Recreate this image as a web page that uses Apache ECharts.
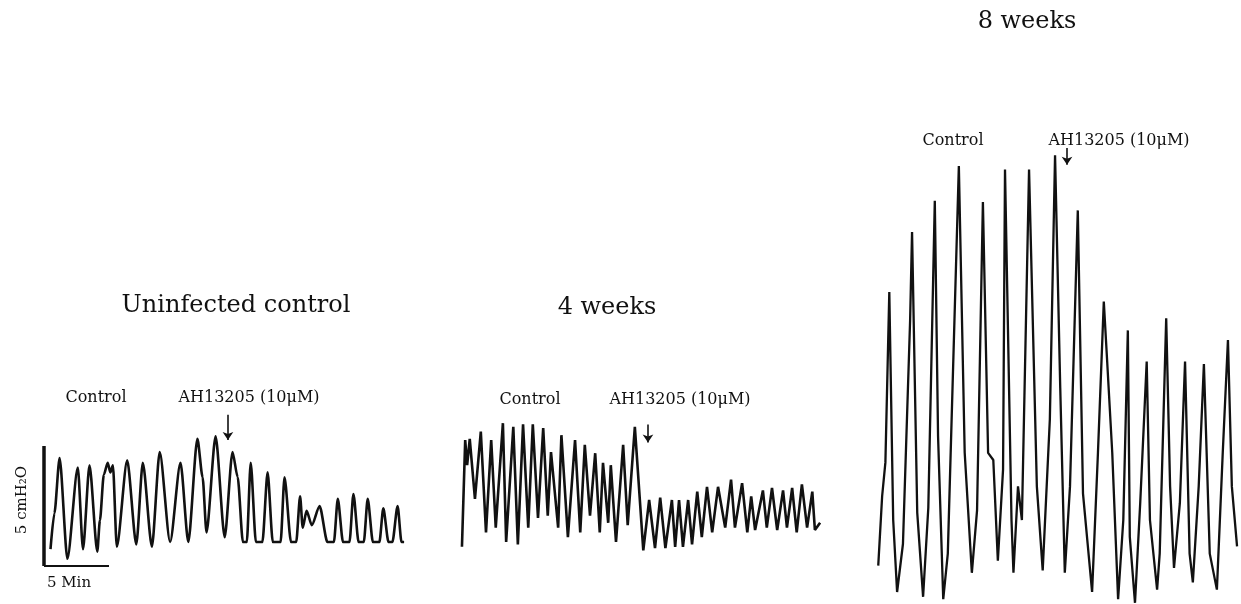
<!DOCTYPE html>
<html><head><meta charset="utf-8">
<script src="https://cdn.jsdelivr.net/npm/echarts@6/dist/echarts.min.js"></script>
<style>html,body{margin:0;padding:0;background:#fff}#c{width:1241px;height:604px}</style>
</head><body><div id="c"></div>
<script>
// ---- data (time in min, pressure in cmH2O above chart baseline) ----
const panelTitles = ['Uninfected control', '4 weeks', '8 weeks'];
const controlLabel = 'Control';
const drugLabel = 'AH13205 (10μM)';

const ucTime = [0.5,0.8,1.2,1.8,2.6,3.0,3.5,4.1,4.3,4.6,4.9,5.1,5.3,5.6,6.4,7.1,7.6,8.3,8.9,9.7,10.5,11.1,11.8,12.2,12.5,13.2,13.9,14.5,14.9,15.3,15.6,15.9,16.3,16.8,17.2,17.6,18.2,18.5,19.0,19.4,19.7,19.9,20.2,20.6,21.2,21.8,22.3,22.6,23.0,23.5,23.8,24.2,24.6,24.9,25.3,25.8,26.1,26.5,26.8,27.2,27.5,27.7];
const ucPressure = [0.7,2.2,4.5,0.3,4.1,0.7,4.2,0.6,1.9,3.8,4.3,3.9,4.2,0.8,4.4,0.9,4.3,0.8,4.75,1.0,4.3,1.0,5.3,3.7,1.4,5.4,1.2,4.75,3.7,1.0,1.0,4.3,1.0,1.0,3.9,1.0,1.0,3.7,1.0,1.0,2.9,1.6,2.3,1.7,2.5,1.0,1.0,2.8,1.0,1.0,3.0,1.0,1.0,2.8,1.0,1.0,2.4,1.0,1.0,2.5,1.0,1.0];

const w4Time = [0.15,0.4,0.55,0.75,1.15,1.6,2.0,2.4,2.75,3.3,3.55,4.1,4.45,4.85,5.25,5.6,6.0,6.4,6.75,7.0,7.55,7.8,8.3,8.85,9.25,9.6,10.0,10.4,10.75,11.0,11.4,11.6,12.0,12.55,12.9,13.45,14.1,14.55,15.0,15.4,15.8,16.3,16.55,16.85,17.15,17.55,17.85,18.25,18.6,19.0,19.4,19.85,20.4,20.85,21.15,21.7,22.1,22.4,22.7,23.3,23.6,24.0,24.4,24.85,25.15,25.55,25.9,26.3,26.7,27.1,27.3,27.7];
const w4Pressure = [0.8,5.25,4.2,5.3,2.8,5.6,1.4,5.25,1.6,5.95,1.0,5.8,0.9,5.9,1.6,5.9,2.0,5.75,2.1,4.75,1.6,5.45,1.2,5.25,1.4,5.05,2.1,4.7,1.4,4.3,1.8,4.2,1.0,5.05,1.7,5.8,0.65,2.75,0.75,2.85,0.75,2.75,0.8,2.75,0.8,2.75,0.9,3.1,1.2,3.3,1.4,3.3,1.6,3.6,1.6,3.45,1.4,2.9,1.5,3.15,1.6,3.25,1.5,3.15,1.6,3.25,1.4,3.4,1.6,3.1,1.5,1.8];

const w8Time = [0.25,0.55,0.8,1.1,1.4,1.7,2.15,2.7,2.85,3.25,3.7,4.1,4.6,4.85,5.25,5.6,6.45,6.9,7.45,7.85,8.3,8.7,9.1,9.45,9.85,10.0,10.5,10.65,11.0,11.3,11.85,12.45,12.9,13.45,13.85,14.25,14.6,15.0,15.6,16.0,16.7,17.15,17.6,17.85,18.25,18.7,19.1,19.45,19.6,20.0,20.4,20.9,21.15,21.7,21.9,22.4,22.7,23.0,23.45,23.85,24.2,24.45,24.9,25.3,25.75,26.3,26.75,27.15,27.45,27.85];
const w8Pressure = [1.6,4.5,5.9,13.0,3.5,0.5,2.5,11.8,15.5,3.8,0.3,4.0,16.8,7.0,0.2,2.1,18.25,6.3,1.3,3.9,16.75,6.3,6.0,1.8,5.6,18.1,3.5,1.3,4.9,3.5,18.1,4.9,1.4,7.7,18.7,9.0,1.3,4.9,16.4,4.6,0.5,6.3,12.6,10.2,6.3,0.2,3.5,11.4,2.8,0.05,4.2,10.1,3.5,0.6,2.1,11.9,4.9,1.5,4.2,10.1,2.1,0.9,4.9,10.0,2.1,0.6,6.3,11.0,4.9,2.4];

const drugTime = [14.15, 14.46, 14.77];
const arrowTop = [6.3, 5.9, 19.0];
const arrowBottom = [5.25, 5.15, 18.3];
const scaleBarMinutes = 5;
const scaleBarCm = 5;

// ---- build ----
const zip = (a, b) => a.map((v, i) => [v, b[i]]);
const traces = [zip(ucTime, ucPressure), zip(w4Time, w4Pressure), zip(w8Time, w8Pressure)];
const FONT = '"DejaVu Serif", "Liberation Serif", serif';
const INK = '#111';

const grids = [
  {left: 44, top: 398, width: 364, height: 168},
  {left: 460, top: 398, width: 364, height: 168},
  {left: 875, top: 148, width: 364, height: 456}
];
const yMax = [7, 7, 19];
const smoothing = [0.25, 0, 0];
const widths = [2.6, 2.6, 2.3];

const xAxis = grids.map((g, i) => ({type: 'value', gridIndex: i, min: 0, max: 28, show: false}));
const yAxis = grids.map((g, i) => ({type: 'value', gridIndex: i, min: 0, max: yMax[i], show: false}));

const series = traces.map((d, i) => ({
  type: 'line', xAxisIndex: i, yAxisIndex: i, data: d,
  symbol: 'none', clip: false, smooth: smoothing[i], smoothMonotone: 'x',
  lineStyle: {color: INK, width: widths[i]},
  markLine: {
    silent: true, symbol: ['none', 'arrow'], symbolSize: 8,
    label: {show: false},
    lineStyle: {color: INK, width: 1.6, type: 'solid'},
    itemStyle: {color: INK},
    data: [[{coord: [drugTime[i], arrowTop[i]]}, {coord: [drugTime[i], arrowBottom[i]]}]]
  }
}));
series.push({
  type: 'line', xAxisIndex: 0, yAxisIndex: 0, symbol: 'none', clip: false,
  data: [[0, 0], [0, scaleBarCm]], lineStyle: {color: INK, width: 3.5}
});
series.push({
  type: 'line', xAxisIndex: 0, yAxisIndex: 0, symbol: 'none', clip: false,
  data: [[0, 0], [scaleBarMinutes, 0]], lineStyle: {color: INK, width: 2}
});

function txt(text, x, y, size, extra) {
  return Object.assign({
    type: 'text', x: x, y: y,
    style: {text: text, font: size + 'px ' + FONT, fill: INK,
      align: 'center', verticalAlign: 'middle', textAlign: 'center', textVerticalAlign: 'middle'}
  }, extra || {});
}

const graphic = [
  txt(panelTitles[0], 236, 306, 24),
  txt(panelTitles[1], 607, 308, 24),
  txt(panelTitles[2], 1027, 22, 24),
  txt(controlLabel, 96, 398, 16),
  txt(drugLabel, 249, 398, 16),
  txt(controlLabel, 530, 400, 16),
  txt(drugLabel, 680, 400, 16),
  txt(controlLabel, 953, 141, 16),
  txt(drugLabel, 1119, 141, 16),
  txt('5 Min', 69, 583, 15),
  txt('5 cmH₂O', 22, 500, 15, {rotation: Math.PI / 2})
];

const chart = echarts.init(document.getElementById('c'));
chart.setOption({
  animation: false,
  backgroundColor: '#fff',
  grid: grids, xAxis: xAxis, yAxis: yAxis, series: series, graphic: graphic
});
</script></body></html>
